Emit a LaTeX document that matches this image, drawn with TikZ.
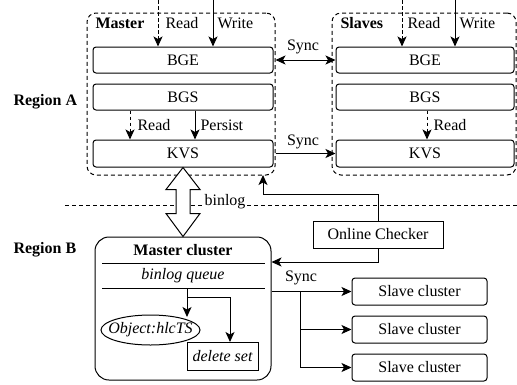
\documentclass[tikz,border=0pt]{standalone}
\usepackage{fontspec}
\setmainfont{Liberation Serif}
\usetikzlibrary{arrows.meta}

\tikzset{
  box/.style={draw, rounded corners=3pt, minimum width=180pt, minimum height=26pt, inner sep=0pt},
  sqbox/.style={draw, minimum height=27pt, inner sep=0pt},
  group/.style={draw, dash pattern=on 4pt off 3pt, rounded corners=9pt, inner sep=0pt},
  arrowhead/.tip={Stealth[length=10pt,width=9pt,inset=2.5pt]},
  tip/.style={-arrowhead},
  dtip/.style={arrowhead-arrowhead},
  dash line/.style={dash pattern=on 3.5pt off 2.5pt},
  lbl/.style={inner sep=0pt, anchor=west},
  title/.style={inner sep=0pt, font=\fontsize{16}{19}\selectfont\bfseries},
}

\begin{document}
\begin{tikzpicture}[x=1pt, y=-1pt, line width=1pt,
  font=\fontsize{16}{19}\selectfont]
\useasboundingbox (0,0) rectangle (517,384);

% ---------- Region A: master and slave groups ----------
\node (mgrp) [group, minimum width=188pt, minimum height=162pt] at (181,94) {};
\node (sgrp) [group, minimum width=184pt, minimum height=162pt] at (424,94) {};

\node (mBGE) [box] at (183,60) {BGE};
\node (mBGS) [box] at (183,97) {BGS};
\node (mKVS) [box, minimum height=27pt] at (183,153.5) {KVS};

\node (sBGE) [box, minimum width=178pt] at (425,60) {BGE};
\node (sBGS) [box, minimum width=178pt] at (425,97) {BGS};
\node (sKVS) [box, minimum width=178pt, minimum height=27pt] at (425,153.5) {KVS};

\node (mtitle) [title, anchor=west] at (95,23) {Master};
\node (stitle) [title, anchor=west] at (340,23) {Slaves};
\node (regA) [title, anchor=west] at (13,102) {Region A};
\node (regB) [title, anchor=west] at (13,250) {Region B};

% client requests
\coordinate (mRd) at (158,0);
\coordinate (mWr) at (213,0);
\coordinate (sRd) at (402,0);
\coordinate (sWr) at (455,0);
\draw[tip, dash line] (mRd) -- (mRd |- mBGE.north);
\draw[tip] (mWr) -- (mWr |- mBGE.north);
\draw[tip, dash line] (sRd) -- (sRd |- sBGE.north);
\draw[tip] (sWr) -- (sWr |- sBGE.north);
\node (mRdL) [lbl] at (165,23) {Read};
\node (mWrL) [lbl] at (217,23) {Write};
\node (sRdL) [lbl] at (407,23) {Read};
\node (sWrL) [lbl] at (459,23) {Write};

% BGS to KVS
\coordinate (mBr) at (130,0);
\coordinate (mBp) at (195,0);
\coordinate (sBr) at (427,0);
\draw[tip, dash line] (mBr |- mBGS.south) -- (mBr |- mKVS.north);
\draw[tip] (mBp |- mBGS.south) -- (mBp |- mKVS.north);
\draw[tip, dash line] (sBr |- sBGS.south) -- (sBr |- sKVS.north);
\node (mBrL) [lbl] at (137,125) {Read};
\node (mBpL) [lbl] at (200,125) {Persist};
\node (sBrL) [lbl] at (433,125) {Read};

% synchronisation between master and slaves
\draw[dtip] (mgrp.east |- mBGE) -- (sBGE.west);
\node (sync1) [inner sep=0pt] at (303,47) {Sync};
\draw[tip] (mgrp.east |- mKVS) -- (sKVS.west);
\node (sync2) [inner sep=0pt] at (303,142) {Sync};

% ---------- Region boundary ----------
\draw[dash pattern=on 4pt off 3pt] (65,205) -- (517,205);

% ---------- Region B ----------
\node (mcl) [draw, rounded corners=14pt, minimum width=176pt, minimum height=143pt, inner sep=0pt] at (183,308.5) {};
\node (mcT) [title] at (183,250) {Master cluster};
\draw (102,263) -- (265,263);
\node (bq) [inner sep=0pt, font=\fontsize{16}{19}\selectfont\itshape] at (183,276) {binlog queue};
\draw (102,288) -- (265,288);

\node (obj) [inner sep=0pt, font=\fontsize{16}{19}\selectfont\itshape] at (150.5,330) {Object:hlcTS};
\draw (obj.center) ellipse [x radius=49.5pt, y radius=15pt];
\node (ds) [sqbox, minimum width=71pt, minimum height=28pt, font=\fontsize{16}{19}\selectfont\itshape] at (222.5,356) {delete set};

\coordinate (qOut) at (187,288);
\coordinate (objIn) at (187,317);
\coordinate (qSplit) at (187,297);
\coordinate (dsIn) at (230,342);
\draw[tip] (qOut) -- (objIn);
\draw[tip] (qSplit) -| (dsIn);

% binlog transfer (hollow double arrow)
\draw[fill=white, line join=miter]
  (mKVS.south) -- ++(17,22) -- ++(-10,0) -- ++(0,24) -- ++(10,0)
  -- (mcl.north) -- ++(-17,-23) -- ++(10,0) -- ++(0,-24) -- ++(-10,0) -- cycle;
\node (binlog) [fill=white, inner sep=1.5pt] at (225,202) {binlog};

% online checker
\node (oc) [sqbox, minimum width=130pt] at (378,234.5) {Online Checker};
\coordinate (ocTarget) at (263,175);
\draw[tip] (oc.north) -- (oc.north |- 0,194) -| (ocTarget);
\draw[tip] (oc.south) |- (mcl.east |- 0,262);

% slave clusters
\node (sc1) [box, minimum width=135pt, minimum height=27pt] at (419.5,291.5) {Slave cluster};
\node (sc2) [box, minimum width=135pt, minimum height=27pt] at (419.5,329.5) {Slave cluster};
\node (sc3) [box, minimum width=135pt, minimum height=27pt] at (419.5,367.5) {Slave cluster};
\coordinate (fork) at (300,0);
\draw[tip] (mcl.east |- sc1) -- (sc1.west);
\draw[tip] (fork |- sc1) |- (sc2.west);
\draw[tip] (fork |- sc1) |- (sc3.west);
\node (sync3) [inner sep=0pt] at (301,278) {Sync};
\end{tikzpicture}
\end{document}
